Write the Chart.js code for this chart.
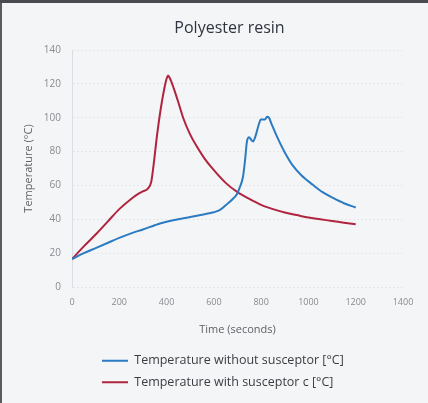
<!DOCTYPE html>
<html><head><meta charset="utf-8">
<script src="https://cdn.jsdelivr.net/npm/chart.js@4.4.1/dist/chart.umd.min.js"></script>
<style>
html,body{margin:0;padding:0;background:#f4f5f7;}
#wrap{position:relative;width:428px;height:403px;
  background:
    linear-gradient(to bottom,#4a4a50 0,#4a4a50 3px,transparent 3px),
    linear-gradient(to right,#5a5a60 0,#5a5a60 2px,transparent 2px),
    #f4f5f7;}
canvas{display:block;}
</style></head><body>
<div id="wrap"><canvas id="c" width="428" height="403"></canvas></div>
<script>
// ---- data ----
const chartTitle = "Polyester resin";
const xAxisTitle = "Time (seconds)";
const yAxisTitle = "Temperature (°C)";
const seriesNames = ["Temperature without susceptor [°C]", "Temperature with susceptor c [°C]"];

const timeWithout = [0, 50, 100, 150, 200, 250, 300, 350, 372, 400, 450, 500, 550, 600, 626, 660, 680, 698, 710, 723, 732, 740, 749, 758, 766, 778, 790, 799, 816, 825, 833, 842, 860, 880, 900, 935, 970, 1020, 1060, 1104, 1150, 1200];
const tempWithout = [16.5, 20, 23, 26, 29, 31.7, 34, 36.5, 37.5, 38.5, 40, 41.3, 42.7, 44.2, 45.5, 49.5, 52, 55, 59, 65, 75, 86, 88.5, 87, 86, 90, 96, 99, 99, 100.5, 100, 97, 91, 85, 79.5, 71.5, 66, 60.2, 56, 52.6, 49.5, 47];

const timeWith = [0, 50, 100, 150, 200, 250, 280, 300, 320, 335, 345, 360, 375, 390, 400, 406, 415, 430, 450, 470, 500, 530, 560, 600, 650, 700, 750, 800, 850, 900, 950, 1000, 1050, 1100, 1150, 1200];
const tempWith = [16.5, 24, 31, 38.5, 46, 52, 55, 56.5, 58, 62, 72, 90, 105, 117, 123, 125, 123, 117.5, 109, 100, 90, 82.5, 76, 69, 61.5, 56, 52, 48.5, 46, 44, 42.5, 41, 40, 39, 38, 37];

const xTicks = [0, 200, 400, 600, 800, 1000, 1200, 1400];
const yTicks = [0, 20, 40, 60, 80, 100, 120, 140];

const colorWithout = "#2b7bc2";
const colorWith = "#b0243f";

// ---- chart ----
const nudge = {
  id: 'nudge',
  afterLayout(chart) {
    const t = chart.titleBlock;
    if (t) { t.left -= 8; t.right -= 8; }
    const l = chart.legend;
    if (l) { l.left += 21; l.right += 21; }
  }
};

const toPts = (xs, ys) => xs.map((x, i) => ({x: x, y: ys[i]}));
const FONT = "'Open Sans', 'Noto Sans', sans-serif";

new Chart(document.getElementById('c'), {
  type: 'line',
  data: {
    datasets: [
      {label: seriesNames[0], data: toPts(timeWithout, tempWithout), borderColor: colorWithout, backgroundColor: colorWithout,
       borderWidth: 2, pointRadius: 0, cubicInterpolationMode: 'monotone', fill: false},
      {label: seriesNames[1], data: toPts(timeWith, tempWith), borderColor: colorWith, backgroundColor: colorWith,
       borderWidth: 2, pointRadius: 0, cubicInterpolationMode: 'monotone', fill: false}
    ]
  },
  options: {
    responsive: false,
    animation: false,
    devicePixelRatio: 1,
    layout: {padding: {left: 0, right: 25, top: 0, bottom: 4.5}},
    plugins: {
      title: {display: true, text: chartTitle, fullSize: false, color: '#30343e',
        font: {family: FONT, size: 16, weight: 'normal'}, padding: {top: 18.5, bottom: 12.3}},
      legend: {display: true, position: 'bottom', align: 'start', fullSize: false,
        labels: {usePointStyle: true, pointStyle: 'line', pointStyleWidth: 26, padding: 9,
          color: '#3c3c44', font: {family: FONT, size: 12.5}}},
      tooltip: {enabled: false}
    },
    scales: {
      x: {type: 'linear', min: 0, max: 1400,
        afterBuildTicks: s => { s.ticks = xTicks.map(v => ({value: v})); },
        afterFit: s => { s.height = 58.5; },
        grid: {display: false, drawTicks: false},
        border: {display: false},
        ticks: {padding: 10, color: '#8a8a90', font: {family: FONT, size: 9}, maxRotation: 0,
          callback: v => String(v)},
        title: {display: true, text: xAxisTitle, color: '#606068', font: {family: FONT, size: 11}, padding: {top: 0, bottom: 9}}
      },
      y: {type: 'linear', min: 0, max: 140,
        afterBuildTicks: s => { s.ticks = yTicks.map(v => ({value: v})); },
        afterFit: s => { s.width = 72; },
        grid: {color: 'rgba(200,206,218,0.35)', drawTicks: false},
        border: {display: true, color: 'rgba(200,206,218,0.6)', dash: [2, 2]},
        ticks: {padding: 11, color: '#8a8a90', font: {family: FONT, size: 10}, callback: v => String(v)},
        title: {display: true, text: yAxisTitle, color: '#606068', font: {family: FONT, size: 11}, padding: {top: 22, bottom: 0}}
      }
    }
  },
  plugins: [nudge]
});
</script>
</body></html>
